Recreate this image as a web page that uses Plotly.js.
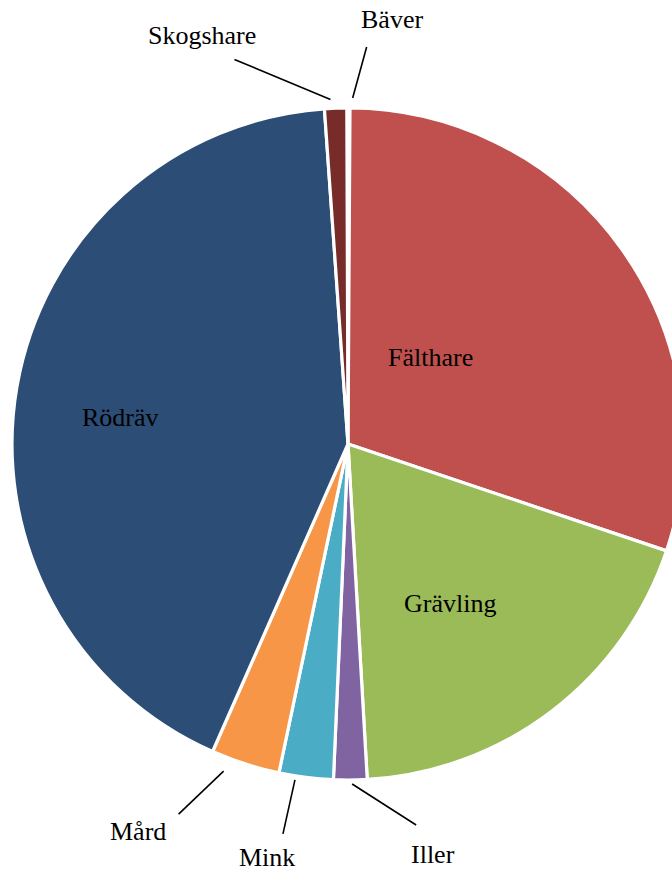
<!DOCTYPE html>
<html>
<head>
<meta charset="utf-8">
<script src="https://cdn.plot.ly/plotly-3.0.1.min.js"></script>
<style>
html,body{margin:0;padding:0;overflow:hidden;background:#fff;}
#chart{width:696px;height:876px;}
</style>
</head>
<body>
<div id="chart"></div>
<script>
// ---- data ----
const labels = ['Bäver','Fälthare','Grävling','Iller','Mink','Mård','Rödräv','Skogshare'];
const values = [0.15, 30.0, 18.9, 1.6, 2.6, 3.3, 42.2, 1.06];
const colors = ['#4F81BD','#C0504D','#9BBB59','#8064A2','#4BACC6','#F79646','#2C4D75','#772C2A'];

// ---- label placement (style) ----
const W = 696, H = 876;
const margin = {l: 12, r: 12, t: 108, b: 96};
const rotation = -0.2;
const R = Math.min(W - margin.l - margin.r, H - margin.t - margin.b) / 2;
// inside labels: radius fraction and angular nudge (deg) from slice mid-angle
const insidePlace = {
  'Fälthare': {r: 0.356, turn: -11},
  'Grävling': {r: 0.565, turn: 4.8},
  'Rödräv':   {r: 0.683, turn: -3.3}
};
// outside labels: leader start (gap beyond rim, angular nudge), leader end and text offsets in px
const outsidePlace = {
  'Bäver':     {gap: 10, turn: 0.7,  line: [14, -51],  text: [39, -79]},
  'Skogshare': {gap: 9,  turn: -0.8, line: [-96, -40], text: [-128, -64]},
  'Mård':      {gap: 14, turn: 3.0,  line: [-45, 43],  text: [-86, 60]},
  'Mink':      {gap: 4,  turn: 1.8,  line: [-12, 54],  text: [-28, 78]},
  'Iller':     {gap: 4,  turn: -0.3, line: [64, 41],   text: [81, 71]}
};

const total = values.reduce((a, b) => a + b, 0);
const font = {family: 'Liberation Serif, Times New Roman, serif', size: 26, color: '#000'};
const annotations = [];
const shapes = [];
let cum = 0;
values.forEach((v, i) => {
  const mid = rotation + (cum + v / 2) / total * 360;
  cum += v;
  const name = labels[i];
  if (insidePlace[name]) {
    const p = insidePlace[name];
    const a = (mid + p.turn) * Math.PI / 180;
    const dx = R * p.r * Math.sin(a), dy = -R * p.r * Math.cos(a);
    annotations.push({text: name, xref: 'paper', yref: 'paper', x: 0.5, y: 0.5,
      xshift: dx, yshift: -dy, showarrow: false, font: font});
  } else if (outsidePlace[name]) {
    const p = outsidePlace[name];
    const a = (mid + p.turn) * Math.PI / 180;
    const sx = (R + p.gap) * Math.sin(a), sy = -(R + p.gap) * Math.cos(a);
    shapes.push({type: 'line', xref: 'paper', yref: 'paper',
      xsizemode: 'pixel', ysizemode: 'pixel', xanchor: 0.5, yanchor: 0.5,
      x0: sx, y0: -sy, x1: sx + p.line[0], y1: -(sy + p.line[1]),
      line: {color: '#000', width: 1.6}});
    annotations.push({text: name, xref: 'paper', yref: 'paper', x: 0.5, y: 0.5,
      xshift: sx + p.text[0], yshift: -(sy + p.text[1]), showarrow: false, font: font});
  }
});

const trace = {
  type: 'pie',
  labels: labels,
  values: values,
  sort: false,
  direction: 'clockwise',
  rotation: rotation,
  marker: {colors: colors, line: {color: '#FFFFFF', width: 3.2}},
  textinfo: 'none',
  hoverinfo: 'label+percent',
  domain: {x: [0, 1], y: [0, 1]}
};

const layout = {
  width: W, height: H,
  margin: margin,
  showlegend: false,
  paper_bgcolor: '#FFFFFF',
  plot_bgcolor: '#FFFFFF',
  annotations: annotations,
  shapes: shapes
};

Plotly.newPlot('chart', [trace], layout, {displayModeBar: false, staticPlot: true});
</script>
</body>
</html>
